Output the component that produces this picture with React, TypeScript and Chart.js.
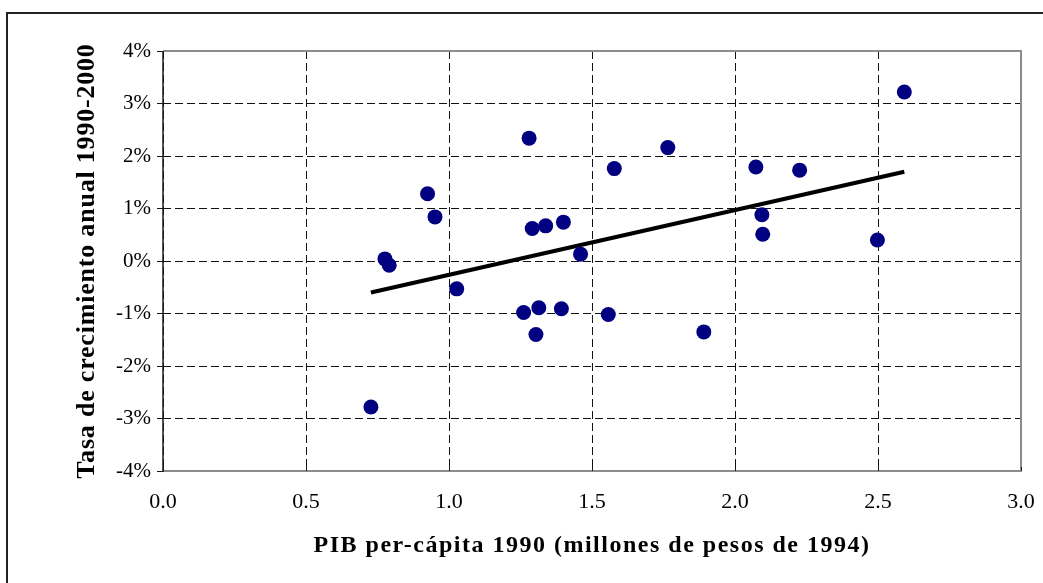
import React, { useEffect, useRef } from "react";
import { Chart, registerables } from "chart.js";

Chart.register(...registerables);

// PIB per-cápita 1990 (millones de pesos de 1994)
const pibPerCapita: number[] = [
  0.727, 0.776, 0.791, 0.925, 0.951, 1.027, 1.261, 1.280, 1.291, 1.304,
  1.314, 1.338, 1.393, 1.400, 1.460, 1.557, 1.578, 1.765, 1.891, 2.073,
  2.094, 2.097, 2.226, 2.498, 2.592,
];
// Tasa de crecimiento anual 1990-2000 (%)
const tasaCrecimiento: number[] = [
  -2.78, 0.04, -0.08, 1.28, 0.84, -0.53, -0.98, 2.34, 0.62, -1.40,
  -0.89, 0.67, -0.91, 0.74, 0.13, -1.02, 1.76, 2.16, -1.35, 1.79,
  0.88, 0.51, 1.73, 0.40, 3.22,
];
// Linear trend endpoints
const trendX: number[] = [0.727, 2.592];
const trendY: number[] = [-0.6, 1.7];

const xTitle = "PIB per-cápita 1990 (millones de pesos de 1994)";
const yTitle = "Tasa de crecimiento anual 1990-2000";

const FONT = "'Liberation Serif', 'Times New Roman', serif";

export default function App() {
  const ref = useRef<HTMLCanvasElement | null>(null);

  useEffect(() => {
    if (!ref.current) return;
    const spacingPlugin = {
      id: "titleSpacing",
      beforeDraw(chart: any) {
        const specs: Record<string, string> = { x: "1.5px", y: "0.8px" };
        Object.keys(specs).forEach((id) => {
          const s = chart.scales[id];
          if (s && !s.__patched) {
            const orig = s.drawTitle;
            s.drawTitle = function () {
              const ctx = this.ctx;
              ctx.save();
              (ctx as any).letterSpacing = specs[id];
              orig.call(this);
              ctx.restore();
            };
            s.__patched = true;
          }
        });
      },
    };
    const framePlugin = {
      id: "frame",
      beforeDraw(chart: any) {
        const ctx = chart.ctx;
        ctx.save();
        ctx.fillStyle = "#ffffff";
        ctx.fillRect(0, 0, chart.width, chart.height);
        ctx.strokeStyle = "#222222";
        ctx.lineWidth = 2;
        ctx.strokeRect(7, 13, chart.width + 20, chart.height + 20);
        ctx.restore();
      },
      afterDraw(chart: any) {
        const ctx = chart.ctx;
        const a = chart.chartArea;
        ctx.save();
        ctx.strokeStyle = "#8c8c8c";
        ctx.lineWidth = 2;
        ctx.beginPath();
        ctx.moveTo(a.left, a.top);
        ctx.lineTo(a.right, a.top);
        ctx.lineTo(a.right, a.bottom);
        ctx.lineTo(a.left, a.bottom);
        ctx.stroke();
        ctx.strokeStyle = "#1a1a1a";
        ctx.lineWidth = 1.5;
        ctx.beginPath();
        ctx.moveTo(a.left, a.top);
        ctx.lineTo(a.left, a.bottom + 1);
        ctx.stroke();
        // small inward x ticks
        const xs = chart.scales.x;
        ctx.strokeStyle = "#1a1a1a";
        ctx.lineWidth = 1;
        xs.ticks.forEach((t: any) => {
          const px = Math.round(xs.getPixelForValue(t.value)) + 0.5;
          ctx.beginPath();
          ctx.moveTo(px, a.bottom - 4);
          ctx.lineTo(px, a.bottom);
          ctx.stroke();
        });
        ctx.restore();
      },
    };

    const chart = new Chart(ref.current, {
      type: "scatter",
      data: {
        datasets: [
          {
            type: "line",
            label: "Tendencia",
            data: trendX.map((x, i) => ({ x, y: trendY[i] })),
            borderColor: "#000000",
            borderWidth: 4,
            pointRadius: 0,
            fill: false,
            order: 2,
          } as any,
          {
            label: "Departamentos",
            data: pibPerCapita.map((x, i) => ({ x, y: tasaCrecimiento[i] })),
            backgroundColor: "#000080",
            borderColor: "#000080",
            borderWidth: 0,
            pointRadius: 7.5,
            order: 1,
          },
        ],
      },
      options: {
        responsive: false,
        animation: false,
        layout: { padding: { left: 0, top: 51, right: 22, bottom: 0 } },
        plugins: {
          legend: { display: false },
          tooltip: { enabled: false },
        },
        scales: {
          x: {
            type: "linear",
            min: 0,
            max: 3,
            afterFit(s: any) {
              s.height = 112;
              s.paddingLeft = 0;
              s.paddingRight = 0;
            },
            ticks: {
              stepSize: 0.5,
              padding: 18,
              color: "#000000",
              font: { family: FONT, size: 22 },
              callback: (v: any) => Number(v).toFixed(1),
            },
            grid: {
              color: "#111111",
              lineWidth: 1,
              drawTicks: false,
            },
            border: { display: false, dash: [8, 4] },
            title: {
              display: true,
              text: xTitle,
              color: "#000000",
              font: { family: FONT, size: 24, weight: "bold" },
              padding: { top: 0, bottom: 23 },
            },
          },
          y: {
            min: -4,
            max: 4,
            afterFit(s: any) {
              s.width = 163;
            },
            ticks: {
              stepSize: 1,
              padding: 6,
              color: "#000000",
              font: { family: FONT, size: 21 },
              callback: (v: any) => `${v}%`,
            },
            grid: {
              color: "#111111",
              lineWidth: 1,
              tickLength: 6,
              tickColor: "#1a1a1a",
            },
            border: { display: false, dash: [8, 4] },
            title: {
              display: true,
              text: yTitle,
              color: "#000000",
              font: { family: FONT, size: 26, weight: "bold" },
              padding: { top: 72, bottom: 0 },
            },
          },
        },
      },
      plugins: [spacingPlugin, framePlugin],
    });
    return () => chart.destroy();
  }, []);

  return (
    <div style={{ position: "absolute", left: 0, top: 0, width: 1043, height: 583, background: "#fff" }}>
      <canvas ref={ref} width={1043} height={583} style={{ display: "block" }} />
    </div>
  );
}
